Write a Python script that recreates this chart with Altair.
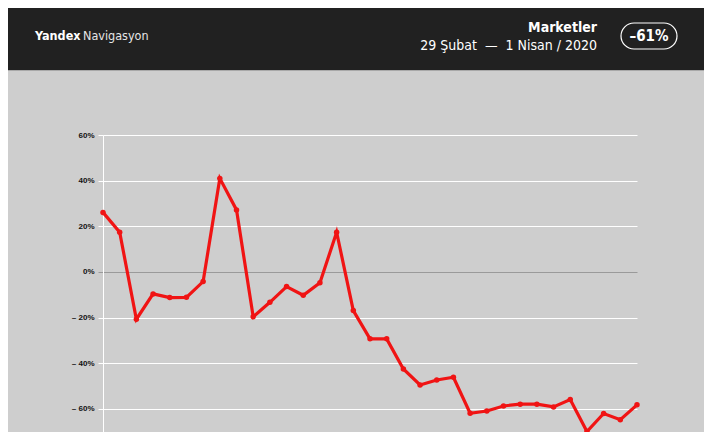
import altair as alt
import pandas as pd

dates = pd.date_range("2020-02-29", "2020-04-01", freq="D").strftime("%Y-%m-%d").tolist()
values = [26.1, 17.4, -20.7, -9.6, -11.2, -11.1, -4.2, 41.0, 27.2, -19.6, -13.3,
          -6.4, -10.2, -4.7, 17.4, -16.9, -29.3, -29.3, -42.5, -49.5, -47.3, -46.1,
          -61.9, -60.9, -58.7, -57.9, -57.9, -59.1, -55.9, -69.9, -62.0, -64.7, -58.2]
y_ticks = [60, 40, 20, 0, -20, -40, -60]

title_brand = "Yandex"
title_app = "Navigasyon"
title_cat = "Marketler"
title_range = "29 Şubat \u00a0—\u00a0 1 Nisan / 2020"
badge_text = "–61%"

df = pd.DataFrame({"date": dates, "value": values})

TOTAL_W, TOTAL_H = 696, 424
PAD_L, PAD_T = 95, 127
W = 534
H = TOTAL_H - PAD_T
BG = "#cecece"
HEAD = "#212121"
RED = "#f01414"

x_enc = alt.X("date:T", scale=alt.Scale(domain=[dates[0], dates[-1]]), axis=None)
y_enc = alt.Y("value:Q", scale=alt.Scale(domain=[-70.1, 60], nice=False, zero=False),
              axis=alt.Axis(values=y_ticks, title=None,
                            labelExpr="datum.value < 0 ? '– ' + abs(datum.value) + '%' : datum.value + '%'",
                            labelFont="Liberation Sans", labelFontWeight="bold", labelFontSize=8,
                            labelColor="#111111", labelPadding=4, tickSize=5,
                            tickColor={"condition": {"test": "datum.value === 0", "value": "#9a9a9a"}, "value": "#ffffff"},
                            gridColor={"condition": {"test": "datum.value === 0", "value": "#9a9a9a"}, "value": "#ffffff"},
                            gridWidth=1, domain=True, domainColor="#ffffff", domainWidth=1))

line = alt.Chart(df).mark_line(color=RED, strokeWidth=3.2).encode(x=x_enc, y=y_enc)
pts = alt.Chart(df).mark_point(color=RED, filled=True, opacity=1, size=30).encode(x=x_enc, y=y_enc)

hdr_df = pd.DataFrame({"k": [0]})
right_edge = TOTAL_W - PAD_L
header = alt.Chart(hdr_df).mark_rect(color=HEAD).encode(
    x=alt.value(-PAD_L), x2=alt.value(right_edge), y=alt.value(-135), y2=alt.value(-65))
hline = alt.Chart(hdr_df).mark_rule(color="#a8a8a8", strokeWidth=1).encode(
    x=alt.value(-PAD_L), x2=alt.value(right_edge), y=alt.value(-64.5))

font = "DejaVu Sans Condensed"
t_brand = alt.Chart(pd.DataFrame({"t": [title_brand]})).mark_text(
    font=font, fontSize=12.5, fontWeight="bold", color="#ffffff", align="left", baseline="middle").encode(
    text="t:N", x=alt.value(35 - 103), y=alt.value(36 - 135))
t_app = alt.Chart(pd.DataFrame({"t": [title_app]})).mark_text(
    font=font, fontSize=12.5, color="#e6e6e6", align="left", baseline="middle").encode(
    text="t:N", x=alt.value(83 - 103), y=alt.value(36 - 135))
t_cat = alt.Chart(pd.DataFrame({"t": [title_cat]})).mark_text(
    font=font, fontSize=14, fontWeight="bold", color="#ffffff", align="right", baseline="middle").encode(
    text="t:N", x=alt.value(597 - 103), y=alt.value(28 - 135))
t_range = alt.Chart(pd.DataFrame({"t": [title_range]})).mark_text(
    font=font, fontSize=14, color="#ffffff", align="right", baseline="middle").encode(
    text="t:N", x=alt.value(597 - 103), y=alt.value(46 - 135))
badge = alt.Chart(hdr_df).mark_rect(fill=HEAD, stroke="#ffffff", strokeWidth=1.2, cornerRadius=13).encode(
    x=alt.value(621 - 103), x2=alt.value(677 - 103), y=alt.value(23 - 135), y2=alt.value(49 - 135))
t_badge = alt.Chart(pd.DataFrame({"t": [badge_text]})).mark_text(
    font=font, fontSize=15, fontWeight="bold", color="#ffffff", align="center", baseline="middle").encode(
    text="t:N", x=alt.value(649 - 103), y=alt.value(36 - 135))

chart = alt.layer(line, pts, header, hline, t_brand, t_app, t_cat, t_range, badge, t_badge).properties(
    width=W, height=H,
    padding={"left": PAD_L, "top": PAD_T, "right": TOTAL_W - PAD_L - W, "bottom": 0},
    autosize=alt.AutoSizeParams(type="none"),
    background=BG,
).configure_view(stroke=None, fill=BG)

chart.save("out.html", embed_options={"renderer": "svg", "actions": False})
